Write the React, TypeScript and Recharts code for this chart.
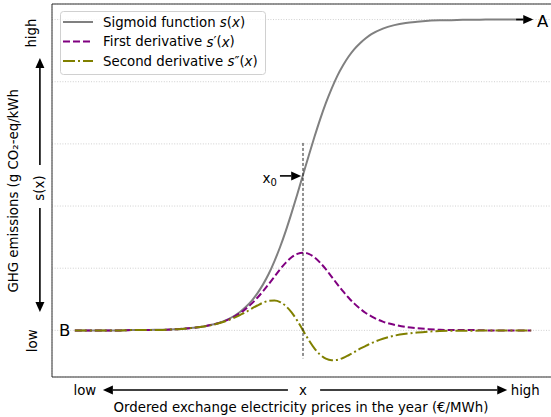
import {
  CartesianGrid,
  Legend,
  Line,
  LineChart,
  ReferenceArea,
  ReferenceDot,
  ReferenceLine,
  XAxis,
  YAxis,
} from "recharts";

// ordered price position (x0 at 0)
const xs = [
  -10, -9.5, -9, -8.5, -8, -7.5, -7, -6.5, -6, -5.5, -5, -4.5, -4, -3.5,
  -3, -2.75, -2.5, -2.25, -2, -1.75, -1.5, -1.25, -1, -0.75, -0.5, -0.25,
  0, 0.25, 0.5, 0.75, 1, 1.25, 1.5, 1.75, 2, 2.25, 2.5, 2.75, 3,
  3.5, 4, 4.5, 5, 5.5, 6, 6.5, 7, 7.5, 8, 8.5, 9, 9.5, 10,
];

const sigmoid = [
  0, 0, 0, 0, 0, 0.001, 0.001, 0.002, 0.002, 0.004, 0.007, 0.011, 0.018, 0.029,
  0.047, 0.06, 0.076, 0.095, 0.119, 0.148, 0.182, 0.223, 0.269, 0.321, 0.378, 0.438,
  0.5, 0.562, 0.622, 0.679, 0.731, 0.777, 0.818, 0.852, 0.881, 0.905, 0.924, 0.94, 0.953,
  0.971, 0.982, 0.989, 0.993, 0.996, 0.998, 0.998, 0.999, 0.999, 1, 1, 1, 1, 1,
];

const firstDerivative = [
  0, 0, 0, 0, 0, 0.001, 0.001, 0.001, 0.002, 0.004, 0.007, 0.011, 0.018, 0.028,
  0.045, 0.056, 0.07, 0.086, 0.105, 0.126, 0.149, 0.173, 0.197, 0.218, 0.235, 0.246,
  0.25, 0.246, 0.235, 0.218, 0.197, 0.173, 0.149, 0.126, 0.105, 0.086, 0.07, 0.056, 0.045,
  0.028, 0.018, 0.011, 0.007, 0.004, 0.002, 0.001, 0.001, 0.001, 0, 0, 0, 0, 0,
];

const secondDerivative = [
  0, 0, 0, 0, 0, 0.001, 0.001, 0.001, 0.002, 0.004, 0.007, 0.011, 0.017, 0.027,
  0.041, 0.05, 0.059, 0.07, 0.08, 0.089, 0.095, 0.096, 0.091, 0.078, 0.058, 0.031,
  0, -0.031, -0.058, -0.078, -0.091, -0.096, -0.095, -0.089, -0.08, -0.07, -0.059, -0.05, -0.041,
  -0.027, -0.017, -0.011, -0.007, -0.004, -0.002, -0.001, -0.001, -0.001, 0, 0, 0, 0, 0,
];

const xGrid = [-10, -7.5, -5, -2.5, 0, 2.5, 5, 7.5, 10];
const yGrid = [0, 0.2, 0.4, 0.6, 0.8, 1];
const yTickText: Record<number, string> = { 0: "low", 1: "high" };

const data = xs.map((x, i) => ({
  x,
  s: sigmoid[i],
  d1: firstDerivative[i],
  d2: secondDerivative[i],
}));

const FONT = '"DejaVu Sans", sans-serif';
const FS = 13.33;

const SERIES = [
  { key: "s", label: "Sigmoid function", primes: "", color: "#808080", dash: undefined },
  { key: "d1", label: "First derivative", primes: "\u2032", color: "#800080", dash: "7 3" },
  { key: "d2", label: "Second derivative", primes: "\u2033", color: "#808000", dash: "12 3 2 3" },
];

function Arrow(props: any) {
  const { x1, y1, x2, y2 } = props;
  const dx = x2 - x1;
  const dy = y2 - y1;
  const len = Math.hypot(dx, dy) || 1;
  const ux = dx / len;
  const uy = dy / len;
  const hl = 10;
  const hw = 4.5;
  const bx = x2 - ux * hl;
  const by = y2 - uy * hl;
  return (
    <g>
      <line x1={x1} y1={y1} x2={bx} y2={by} stroke="#000" strokeWidth={1.6} />
      <polygon
        points={`${x2},${y2} ${bx - uy * hw},${by + ux * hw} ${bx + uy * hw},${by - ux * hw}`}
        fill="#000"
      />
    </g>
  );
}

const label =
  (content: React.ReactNode, opts: { size?: number; anchor?: string; rotate?: boolean } = {}) =>
  (p: any) => (
    <text
      x={p.cx}
      y={p.cy}
      fontFamily={FONT}
      fontSize={opts.size ?? FS}
      fill="#000"
      textAnchor={opts.anchor ?? "middle"}
      dominantBaseline="central"
      transform={opts.rotate ? `rotate(-90 ${p.cx} ${p.cy})` : undefined}
    >
      {content}
    </text>
  );

function YTick(props: any) {
  const { x, y, payload } = props;
  const t = yTickText[payload.value];
  if (!t) return null;
  const cx = x - 12;
  return (
    <text
      x={cx}
      y={y - 1}
      fontFamily={FONT}
      fontSize={FS}
      textAnchor="end"
      dominantBaseline="central"
      transform={`rotate(-90 ${cx} ${y - 1})`}
    >
      {t}
    </text>
  );
}

function LegendBox() {
  return (
    <svg width={206} height={64} style={{ display: "block" }}>
      <rect x={0.5} y={0.5} width={205} height={63} rx={3} fill="#fff" fillOpacity={0.8} stroke="#d0d0d0" />
      {SERIES.map((s, i) => {
        const cy = 11 + i * 19.5;
        return (
          <g key={s.key}>
            <line x1={3} x2={33} y1={cy} y2={cy} stroke={s.color} strokeWidth={2} strokeDasharray={s.dash} />
            <text x={43} y={cy} dominantBaseline="central" fontFamily={FONT} fontSize={FS} fill="#000">
              {s.label} <tspan fontStyle="italic">s</tspan>
              {s.primes}(<tspan fontStyle="italic">x</tspan>)
            </text>
          </g>
        );
      })}
    </svg>
  );
}

export default function App() {
  return (
    <div style={{ position: "absolute", left: 0, top: 0, width: 551, height: 417, overflow: "hidden", background: "#fff" }}>
      <LineChart width={560} height={417} data={data} margin={{ top: 4, right: 6, bottom: 0, left: 0 }}>
        <CartesianGrid stroke="#c4c4c4" strokeWidth={0.8} strokeDasharray="1 1.6" />
        <XAxis
          dataKey="x"
          type="number"
          domain={[-11, 11]}
          ticks={xGrid}
          tick={false}
          tickLine={false}
          axisLine={false}
          height={40}
        />
        <YAxis
          type="number"
          domain={[-0.15, 1.05]}
          ticks={yGrid}
          tick={<YTick />}
          tickLine={false}
          axisLine={false}
          width={52}
        />
        <ReferenceArea x1={-11} x2={11} y1={-0.15} y2={1.05} fill="none" stroke="#333" strokeWidth={1} ifOverflow="visible" />

        {SERIES.map((s) => (
          <Line
            key={s.key}
            dataKey={s.key}
            name={s.label}
            type="monotone"
            stroke={s.color}
            strokeWidth={2}
            strokeDasharray={s.dash}
            dot={false}
            activeDot={false}
            isAnimationActive={false}
          />
        ))}

        {/* x0 marker */}
        <ReferenceLine
          segment={[{ x: 0, y: 0.603 }, { x: 0, y: -0.09 }]}
          stroke="#222"
          strokeWidth={1}
          strokeDasharray="3 2"
          ifOverflow="visible"
        />
        <ReferenceLine segment={[{ x: -1.01, y: 0.497 }, { x: -0.08, y: 0.497 }]} shape={Arrow} ifOverflow="visible" />
        <ReferenceDot
          x={-1.14}
          y={0.49}
          ifOverflow="visible"
          shape={label(
            <>
              x<tspan fontSize={10} dy={4}>0</tspan>
            </>,
            { size: 13.5, anchor: "end" }
          )}
        />

        {/* end points */}
        <ReferenceLine segment={[{ x: 9.34, y: 1.0 }, { x: 10.09, y: 1.0 }]} shape={Arrow} ifOverflow="visible" />
        <ReferenceDot x={10.5} y={0.995} ifOverflow="visible" shape={label("A", { size: 16.5 })} />
        <ReferenceDot x={-10.44} y={0} ifOverflow="visible" shape={label("B", { size: 16.5 })} />

        {/* y direction */}
        <ReferenceLine segment={[{ x: -11.53, y: 0.532 }, { x: -11.53, y: 0.876 }]} shape={Arrow} ifOverflow="visible" />
        <ReferenceDot x={-11.53} y={0.458} ifOverflow="visible" shape={label("s(x)", { rotate: true })} />
        <ReferenceLine segment={[{ x: -11.53, y: 0.394 }, { x: -11.53, y: 0.059 }]} shape={Arrow} ifOverflow="visible" />
        <ReferenceDot
          x={-12.68}
          y={0.449}
          ifOverflow="visible"
          shape={label("GHG emissions (g CO\u2082-eq/kWh", { rotate: true })}
        />

        {/* x direction */}
        <ReferenceDot x={-9.56} y={-0.192} ifOverflow="visible" shape={label("low")} />
        <ReferenceLine segment={[{ x: -0.66, y: -0.192 }, { x: -8.77, y: -0.192 }]} shape={Arrow} ifOverflow="visible" />
        <ReferenceDot x={0} y={-0.192} ifOverflow="visible" shape={label("x")} />
        <ReferenceLine segment={[{ x: 0.75, y: -0.192 }, { x: 8.95, y: -0.192 }]} shape={Arrow} ifOverflow="visible" />
        <ReferenceDot x={9.74} y={-0.192} ifOverflow="visible" shape={label("high")} />
        <ReferenceDot
          x={-0.09}
          y={-0.247}
          ifOverflow="visible"
          shape={label("Ordered exchange electricity prices in the year (\u20ac/MWh)")}
        />

        <Legend
          layout="vertical"
          align="center"
          verticalAlign="middle"
          wrapperStyle={{ left: 60, top: 11, width: 206, height: 64 }}
          content={() => <LegendBox />}
        />
      </LineChart>
    </div>
  );
}
